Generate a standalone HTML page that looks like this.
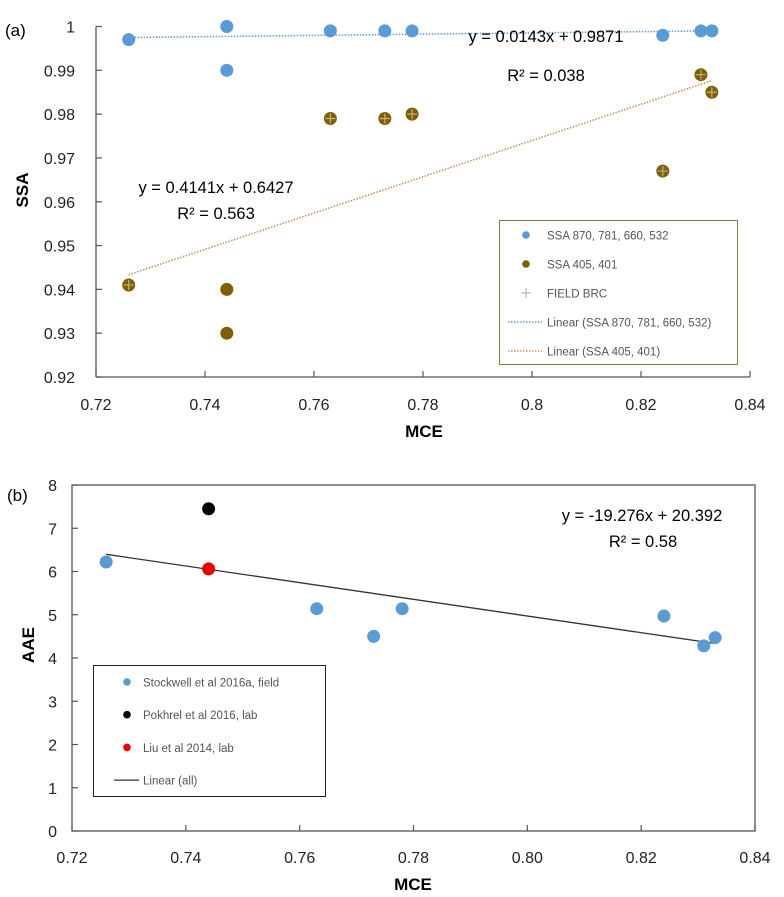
<!DOCTYPE html>
<html><head><meta charset="utf-8"><style>
html,body{margin:0;padding:0;background:#fff;}
svg{display:block;font-family:"Liberation Sans",Arial,sans-serif;}
</style></head><body>
<svg id="c" width="784" height="897" viewBox="0 0 784 897"></svg>
<script>
// ---- Panel (a) data ----
const aBlueX=[0.726,0.744,0.744,0.763,0.773,0.778,0.824,0.831,0.833];
const aBlueY=[0.997,1.000,0.990,0.999,0.999,0.999,0.998,0.999,0.999];
const aBrownX=[0.726,0.744,0.744,0.763,0.773,0.778,0.824,0.831,0.833];
const aBrownY=[0.941,0.940,0.930,0.979,0.979,0.980,0.967,0.989,0.985];
const aFieldX=[0.726,0.763,0.773,0.778,0.824,0.831,0.833];
const aFieldY=[0.941,0.979,0.979,0.980,0.967,0.989,0.985];
const aBlueFit=[0.0143,0.9871];
const aBrownFit=[0.4141,0.6427];
const aXTicks=[0.72,0.74,0.76,0.78,0.8,0.82,0.84];
const aXLabels=["0.72","0.74","0.76","0.78","0.8","0.82","0.84"];
const aYTicks=[0.92,0.93,0.94,0.95,0.96,0.97,0.98,0.99,1];
const aYLabels=["0.92","0.93","0.94","0.95","0.96","0.97","0.98","0.99","1"];
// ---- Panel (b) data ----
const bStockX=[0.726,0.763,0.773,0.778,0.824,0.831,0.833];
const bStockY=[6.22,5.14,4.50,5.14,4.97,4.28,4.47];
const bPokX=[0.744];const bPokY=[7.45];
const bLiuX=[0.744];const bLiuY=[6.06];
const bFit=[-19.276,20.392];
const bXTicks=[0.72,0.74,0.76,0.78,0.80,0.82,0.84];
const bXLabels=["0.72","0.74","0.76","0.78","0.80","0.82","0.84"];
const bYTicks=[0,1,2,3,4,5,6,7,8];
const bYLabels=["0","1","2","3","4","5","6","7","8"];

const svg=document.getElementById('c');
const NS='http://www.w3.org/2000/svg';
function mk(tag,attrs,parent){const e=document.createElementNS(NS,tag);for(const k in attrs)e.setAttribute(k,attrs[k]);(parent||svg).appendChild(e);return e;}
function txt(s,attrs,parent){const e=mk('text',attrs,parent);e.textContent=s;return e;}

// scales panel a
const ax=v=>96+(v-0.72)/0.12*654;
const ay=v=>377-(v-0.92)/0.08*350.5;
const bx=v=>72+(v-0.72)/0.12*683;
const by=v=>831-v/8*346;

// ===== Panel a =====
const ga=mk('g',{});
txt('(a)',{x:5,y:36,'font-size':17,fill:'#000'},ga);
mk('line',{x1:96,y1:ay(1),x2:96,y2:377,stroke:'#555','stroke-width':1.3},ga);
mk('line',{x1:96,y1:377,x2:750,y2:377,stroke:'#555','stroke-width':1.3},ga);
aYTicks.forEach((t,i)=>{mk('line',{x1:96,y1:ay(t),x2:102,y2:ay(t),stroke:'#555','stroke-width':1.2},ga);
 txt(aYLabels[i],{x:75,y:ay(t)+6,'font-size':16,'text-anchor':'end',fill:'#222'},ga);});
aXTicks.forEach((t,i)=>{mk('line',{x1:ax(t),y1:371,x2:ax(t),y2:377,stroke:'#555','stroke-width':1.2},ga);
 txt(aXLabels[i],{x:ax(t),y:410,'font-size':16,'text-anchor':'middle',fill:'#222'},ga);});
txt('SSA',{x:0,y:0,'font-size':17,'font-weight':'bold','text-anchor':'middle',transform:'translate(28,190) rotate(-90)'},ga);
txt('MCE',{x:424,y:437,'font-size':17,'font-weight':'bold','text-anchor':'middle'},ga);
// trendlines
function fitLine(fit,xs,sx,sy,attrs,g){const x0=Math.min(...xs),x1=Math.max(...xs);return mk('line',Object.assign({x1:sx(x0),y1:sy(fit[0]*x0+fit[1]),x2:sx(x1),y2:sy(fit[0]*x1+fit[1])},attrs),g);}
fitLine(aBlueFit,aBlueX,ax,ay,{stroke:'#6c9bcb','stroke-width':1.6,'stroke-dasharray':'1.5 1.5'},ga);
fitLine(aBrownFit,aBrownX,ax,ay,{stroke:'#d4935a','stroke-width':1.6,'stroke-dasharray':'1.5 1.5'},ga);
aBlueX.forEach((x,i)=>{const c=mk('circle',{cx:ax(x),cy:ay(aBlueY[i]),r:6.5,fill:'#5b9bd5'},ga);});
aBrownX.forEach((x,i)=>{const c=mk('circle',{cx:ax(x),cy:ay(aBrownY[i]),r:6.5,fill:'#7f6000'},ga);});
aFieldX.forEach((x,i)=>{const cx=ax(x),cy=ay(aFieldY[i]);const p=mk('path',{d:`M${cx-5} ${cy}H${cx+5}M${cx} ${cy-5}V${cy+5}`,stroke:'#bfb08a','stroke-width':1.2},ga);});
txt('y = 0.0143x + 0.9871',{x:546,y:42,'font-size':16.5,'text-anchor':'middle'},ga);
txt('R² = 0.038',{x:546,y:81,'font-size':16.5,'text-anchor':'middle'},ga);
txt('y = 0.4141x + 0.6427',{x:216,y:193,'font-size':16.5,'text-anchor':'middle'},ga);
txt('R² = 0.563',{x:216,y:219,'font-size':16.5,'text-anchor':'middle'},ga);
// legend a
const la=mk('g',{},ga);
mk('rect',{x:499.5,y:220.5,width:238,height:144,fill:'#fff',stroke:'#8a7a3a','stroke-width':1},la);
const laItems=[['SSA 870, 781, 660, 532','c','#5b9bd5'],['SSA 405, 401','c','#7f6000'],['FIELD BRC','p','#aaa'],['Linear (SSA 870, 781, 660, 532)','l','#6c9bcb'],['Linear (SSA 405, 401)','l','#d4935a']];
laItems.forEach((it,i)=>{const y=235+i*29;const g=mk('g',{},la);
 if(it[1]=='c')mk('circle',{cx:526,cy:y,r:3.8,fill:it[2]},g);
 else if(it[1]=='p')mk('path',{d:`M${521} ${y}H${531}M526 ${y-5}V${y+5}`,stroke:it[2],'stroke-width':1},g);
 else mk('line',{x1:508,y1:y,x2:542,y2:y,stroke:it[2],'stroke-width':1.5,'stroke-dasharray':'1.5 1.5'},g);
 txt(it[0],{x:547,y:y+4.5,'font-size':11.5,fill:'#555'},g);});

// ===== Panel b =====
const gb=mk('g',{});
txt('(b)',{x:7,y:501,'font-size':17},gb);
mk('rect',{x:72,y:485,width:683,height:346,fill:'none',stroke:'#555','stroke-width':1.3},gb);
bYTicks.forEach((t,i)=>{mk('line',{x1:72,y1:by(t),x2:78,y2:by(t),stroke:'#555','stroke-width':1.2},gb);
 txt(bYLabels[i],{x:57,y:by(t)+6,'font-size':16,'text-anchor':'end',fill:'#222'},gb);});
bXTicks.forEach((t,i)=>{mk('line',{x1:bx(t),y1:825,x2:bx(t),y2:831,stroke:'#555','stroke-width':1.2},gb);
 txt(bXLabels[i],{x:bx(t),y:863,'font-size':16,'text-anchor':'middle',fill:'#222'},gb);});
txt('AAE',{x:0,y:0,'font-size':17,'font-weight':'bold','text-anchor':'middle',transform:'translate(34,645) rotate(-90)'},gb);
txt('MCE',{x:413,y:890,'font-size':17,'font-weight':'bold','text-anchor':'middle'},gb);
const allX=bStockX.concat(bPokX,bLiuX);
fitLine(bFit,allX,bx,by,{stroke:'#333','stroke-width':1.3},gb);
bStockX.forEach((x,i)=>{const c=mk('circle',{cx:bx(x),cy:by(bStockY[i]),r:6.5,fill:'#5b9bd5'},gb);});
bPokX.forEach((x,i)=>{const c=mk('circle',{cx:bx(x),cy:by(bPokY[i]),r:6.5,fill:'#000'},gb);});
bLiuX.forEach((x,i)=>{const c=mk('circle',{cx:bx(x),cy:by(bLiuY[i]),r:6.5,fill:'#e00'},gb);});
txt('y = -19.276x + 20.392',{x:642,y:521,'font-size':16.5,'text-anchor':'middle'},gb);
txt('R² = 0.58',{x:643,y:547,'font-size':16.5,'text-anchor':'middle'},gb);
const lb=mk('g',{},gb);
mk('rect',{x:93.5,y:665.5,width:232,height:131,fill:'#fff',stroke:'#222','stroke-width':1},lb);
const lbItems=[['Stockwell et al 2016a, field','c','#5b9bd5'],['Pokhrel et al 2016, lab','c','#000'],['Liu et al 2014, lab','c','#e00'],['Linear (all)','l','#333']];
lbItems.forEach((it,i)=>{const y=682+i*32.7;const g=mk('g',{},lb);
 if(it[1]=='c')mk('circle',{cx:127,cy:y,r:3.8,fill:it[2]},g);
 else mk('line',{x1:114,y1:y,x2:139,y2:y,stroke:it[2],'stroke-width':1.3},g);
 txt(it[0],{x:143,y:y+4.5,'font-size':11.5,fill:'#555'},g);});
</script>
</body></html>
